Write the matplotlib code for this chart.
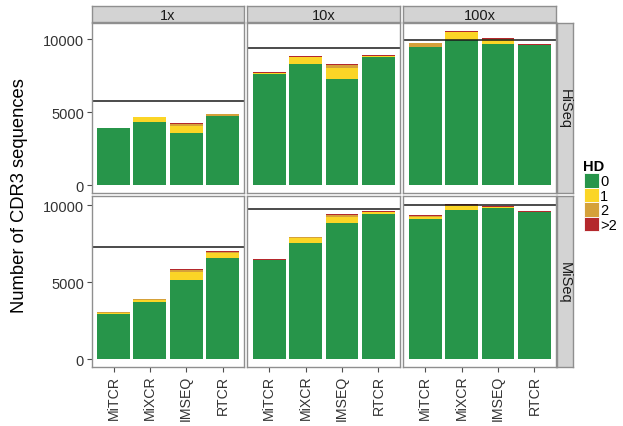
import matplotlib
matplotlib.use("Agg")
import matplotlib.pyplot as plt
import numpy as np
from matplotlib.patches import Rectangle

plt.rcParams['font.family'] = ['Liberation Sans', 'DejaVu Sans']

tools = ["MiTCR", "MiXCR", "IMSEQ", "RTCR"]
depths = ["1x", "10x", "100x"]
platforms = ["HiSeq", "MiSeq"]
hd_levels = ["0", "1", "2", ">2"]
hd_colors = ["#27954A", "#FBD526", "#D5A13A", "#B4282C"]

# rows: HD 0, 1, 2, >2 ; columns: tools
hiseq_1x = [[3900, 4360, 3610, 4775],
            [0, 290, 480, 0],
            [0, 10, 115, 90],
            [50, 50, 90, 45]]
hiseq_10x = [[7650, 8335, 7310, 8815],
             [70, 480, 750, 70],
             [0, 0, 205, 0],
             [70, 70, 70, 70]]
hiseq_100x = [[9500, 9930, 9705, 9640],
              [0, 575, 230, 0],
              [225, 0, 60, 0],
              [50, 90, 120, 65]]
miseq_1x = [[2970, 3730, 5160, 6595],
            [40, 130, 540, 345],
            [70, 85, 110, 65],
            [0, 0, 65, 65]]
miseq_10x = [[6445, 7570, 8870, 9460],
             [0, 325, 410, 130],
             [0, 65, 110, 0],
             [85, 0, 65, 65]]
miseq_100x = [[9135, 9720, 9850, 9590],
              [90, 260, 65, 0],
              [90, 40, 0, 0],
              [80, 90, 65, 65]]

# number of distinct CDR3 sequences in each simulated sample
hiseq_expected = [5780, 9430, 9980]
miseq_expected = [7290, 9785, 10000]

panels = {"HiSeq": [hiseq_1x, hiseq_10x, hiseq_100x],
          "MiSeq": [miseq_1x, miseq_10x, miseq_100x]}
expected = {"HiSeq": hiseq_expected, "MiSeq": miseq_expected}

W, H = 623, 427
fig = plt.figure(figsize=(W / 100, H / 100), dpi=100)

col_x = [(91.7, 244.3), (247.3, 400.3), (403.3, 556.3)]
row_y = [(24.0, 194.0), (197.0, 368.0)]

border = "#8F8F8F"
strip_fill = "#D3D3D3"
tick_col = "#4D4D4D"

def fig_rect(x0, x1, y0, y1):
    return [x0 / W, 1 - y1 / H, (x1 - x0) / W, (y1 - y0) / H]

for r, plat in enumerate(platforms):
    data = [np.array(p, dtype=float) for p in panels[plat]]
    ymax = max(d.sum(axis=0).max() for d in data)
    for c, dep in enumerate(depths):
        ax = fig.add_axes(fig_rect(*col_x[c], *row_y[r]))
        d = data[c]
        x = np.arange(1, len(tools) + 1)
        bottom = np.zeros(len(tools))
        for k, lvl in enumerate(hd_levels):
            ax.bar(x, d[k], width=0.9, bottom=bottom, color=hd_colors[k],
                   linewidth=0)
            bottom += d[k]
        ax.axhline(expected[plat][c], color="#1A1A1A", lw=1.1)
        ax.set_xlim(0.4, len(tools) + 0.6)
        ax.set_ylim(-0.05 * ymax, 1.05 * ymax)
        for s in ax.spines.values():
            s.set_color(border)
            s.set_linewidth(1.0)
        ax.tick_params(colors=tick_col, length=3.5, width=0.8,
                       labelsize=10.5, labelcolor="#333333", pad=2)
        ax.set_yticks([0, 5000, 10000])
        if c == 0:
            ax.set_yticklabels(["0", "5000", "10000"])
        else:
            ax.tick_params(axis="y", left=False, labelleft=False)
        ax.set_xticks(x)
        if r == 1:
            ax.set_xticklabels(tools, rotation=90, fontsize=10.2)
        else:
            ax.tick_params(axis="x", bottom=False, labelbottom=False)

        # column strip
        if r == 0:
            sax = fig.add_axes(fig_rect(col_x[c][0], col_x[c][1], 7.3, 23.3))
            sax.set_facecolor(strip_fill)
            sax.set_xticks([]); sax.set_yticks([])
            for s in sax.spines.values():
                s.set_color(border); s.set_linewidth(1.0)
            sax.text(0.5, 0.45, dep, ha="center", va="center",
                     fontsize=10.5, color="#1A1A1A", transform=sax.transAxes)
    # row strip
    rax = fig.add_axes(fig_rect(557.3, 573.0, *row_y[r]))
    rax.set_facecolor(strip_fill)
    rax.set_xticks([]); rax.set_yticks([])
    for s in rax.spines.values():
        s.set_color(border); s.set_linewidth(1.0)
    rax.text(0.5, 0.5, plat, ha="center", va="center", rotation=-90,
             fontsize=10.5, color="#1A1A1A", transform=rax.transAxes)

fig.text(20 / W, 1 - 196 / H, "Number of CDR3 sequences", rotation=90,
         ha="center", va="center", fontsize=13.2, color="black")

# legend
fig.text(583 / W, 1 - 171.5 / H, "HD", fontsize=10.5, fontweight="bold",
         ha="left", va="baseline", color="black")
key_top, key_h, key_w = 174.0, 14.5, 14.5
for k, lvl in enumerate(hd_levels):
    y0 = key_top + k * key_h
    fig.patches.append(Rectangle((584 / W, 1 - (y0 + key_h) / H), key_w / W,
                                 key_h / H, transform=fig.transFigure,
                                 facecolor=hd_colors[k], edgecolor="white",
                                 linewidth=0.6))
    fig.text(600 / W, 1 - (y0 + key_h / 2 + 1) / H, lvl, fontsize=10.5,
             ha="left", va="center", color="black")

fig.savefig("out.png", dpi=100)
